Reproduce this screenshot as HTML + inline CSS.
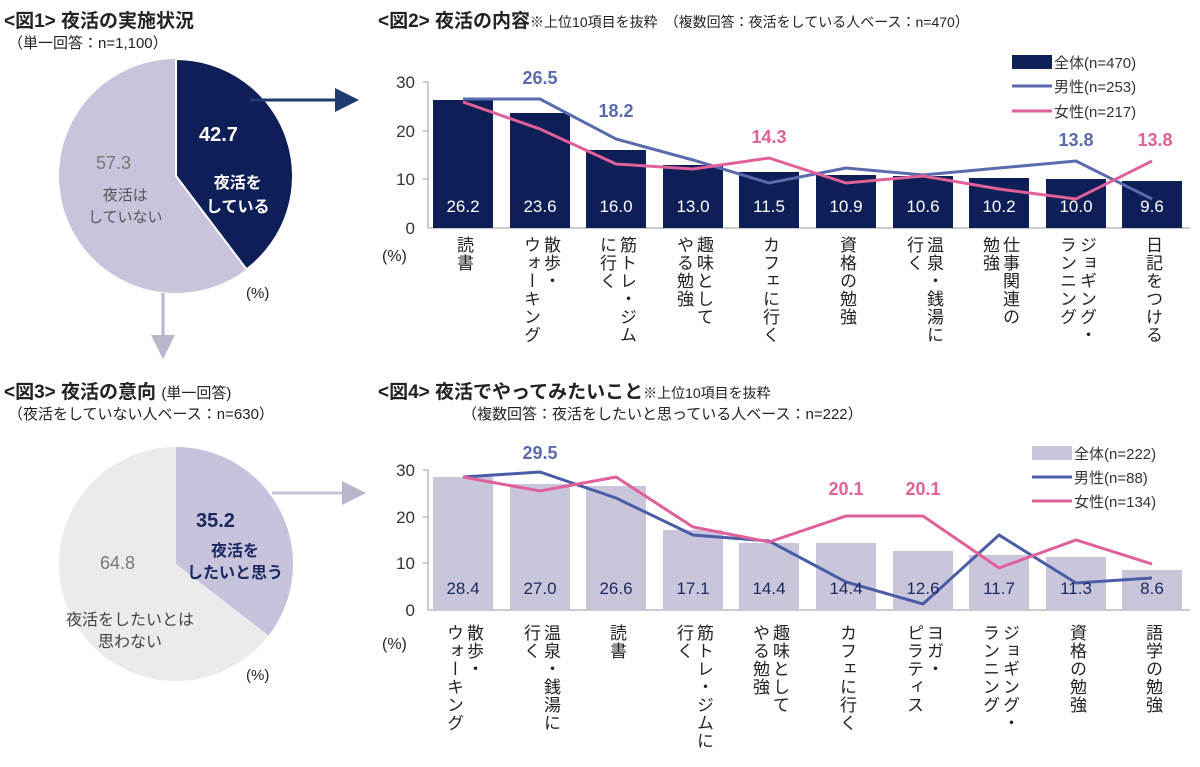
<!DOCTYPE html><html><head><meta charset="utf-8"><style>
body{margin:0;width:1200px;height:767px;background:#fff;position:relative;overflow:hidden;font-family:"Liberation Sans","Noto Sans CJK JP",sans-serif;color:#222}
.t{position:absolute;white-space:nowrap}
.v{position:absolute;writing-mode:vertical-rl;font-size:17px;line-height:20px;transform:translateX(-50%);color:#222;letter-spacing:1px}
svg{position:absolute;left:0;top:0}
</style></head><body>
<svg width="1200" height="767" font-family="Liberation Sans, Noto Sans CJK JP, sans-serif">
<defs><marker id="a1" markerWidth="8" markerHeight="8" refX="6" refY="4" orient="auto"><path d="M0,0L8,4L0,8z" fill="#1e3a6e"/></marker>
<marker id="a2" markerWidth="8" markerHeight="8" refX="6" refY="4" orient="auto"><path d="M0,0L8,4L0,8z" fill="#b9b6cc"/></marker></defs>
<circle cx="176" cy="176" r="117" fill="#c9c4dc"/>
<path d="M176,176L176,59A117,117 0 0 1 246.6,269.3Z" fill="#0e1f57"/>
<path d="M176,176L176,59A117,117 0 0 1 246.6,269.3Z" fill="none" stroke="#fff" stroke-width="2"/>
<line x1="250" y1="100" x2="353" y2="100" stroke="#1e3a6e" stroke-width="3" marker-end="url(#a1)"/>
<line x1="163" y1="293" x2="163" y2="353" stroke="#b9b6cc" stroke-width="3" marker-end="url(#a2)"/>
<circle cx="176" cy="564" r="117" fill="#ebebeb"/>
<path d="M176,564L176,447A117,117 0 0 1 268.6,635.5Z" fill="#c8c3dd"/>
<line x1="272" y1="493" x2="360" y2="493" stroke="#c8c5d8" stroke-width="3" marker-end="url(#a2)"/>
<g stroke="#999" stroke-width="1"><line x1="428" y1="82" x2="428" y2="228"/><line x1="428" y1="228" x2="1190" y2="228"/>
<line x1="423" y1="82" x2="428" y2="82"/><line x1="423" y1="131" x2="428" y2="131"/><line x1="423" y1="179" x2="428" y2="179"/></g>
<g font-size="17" fill="#333" text-anchor="end"><text x="415" y="88">30</text><text x="415" y="137">20</text><text x="415" y="185">10</text><text x="415" y="234">0</text></g>
<g fill="#0e1f57"><rect x="433" y="100" width="60" height="128"/><rect x="510" y="113" width="60" height="115"/><rect x="586" y="150" width="60" height="78"/><rect x="663" y="165" width="60" height="63"/><rect x="739" y="172" width="60" height="56"/><rect x="816" y="175" width="60" height="53"/><rect x="893" y="176" width="60" height="52"/><rect x="969" y="178" width="60" height="50"/><rect x="1046" y="179" width="60" height="49"/><rect x="1122" y="181" width="60" height="47"/></g>
<polyline fill="none" stroke="#5a6aad" stroke-width="3" points="463,99 540,99 616,139 693,160 769,183 846,168 923,175 999,168 1076,161 1152,199"/>
<polyline fill="none" stroke="#e0609a" stroke-width="3" points="463,102 540,129 616,164 693,169 769,158 846,183 923,176 999,189 1076,199 1152,161"/>
<g font-size="17" fill="#fff" text-anchor="middle"><text x="463" y="212">26.2</text><text x="540" y="212">23.6</text><text x="616" y="212">16.0</text><text x="693" y="212">13.0</text><text x="769" y="212">11.5</text><text x="846" y="212">10.9</text><text x="923" y="212">10.6</text><text x="999" y="212">10.2</text><text x="1076" y="212">10.0</text><text x="1152" y="212">9.6</text></g>
<g font-size="18" font-weight="bold" text-anchor="middle"><text x="540" y="84" fill="#5a6aad">26.5</text><text x="616" y="117" fill="#5a6aad">18.2</text><text x="769" y="143" fill="#e0609a">14.3</text><text x="1076" y="146" fill="#5a6aad">13.8</text><text x="1155" y="146" fill="#e0609a">13.8</text></g>
<rect x="1012" y="55" width="40" height="14" fill="#0e1f57"/>
<line x1="1012" y1="86" x2="1052" y2="86" stroke="#5a6aad" stroke-width="3"/>
<line x1="1012" y1="111" x2="1052" y2="111" stroke="#e0609a" stroke-width="3"/>
<g font-size="15" fill="#333"><text x="1054" y="68">全体(n=470)</text><text x="1054" y="92">男性(n=253)</text><text x="1054" y="117">女性(n=217)</text></g>
<g stroke="#999" stroke-width="1"><line x1="428" y1="470" x2="428" y2="610"/><line x1="428" y1="610" x2="1190" y2="610"/>
<line x1="423" y1="470" x2="428" y2="470"/><line x1="423" y1="517" x2="428" y2="517"/><line x1="423" y1="563" x2="428" y2="563"/></g>
<g font-size="17" fill="#333" text-anchor="end"><text x="415" y="476">30</text><text x="415" y="523">20</text><text x="415" y="569">10</text><text x="415" y="616">0</text></g>
<g fill="#c9c5db"><rect x="433" y="477" width="60" height="133"/><rect x="510" y="484" width="60" height="126"/><rect x="586" y="486" width="60" height="124"/><rect x="663" y="530" width="60" height="80"/><rect x="739" y="543" width="60" height="67"/><rect x="816" y="543" width="60" height="67"/><rect x="893" y="551" width="60" height="59"/><rect x="969" y="555" width="60" height="55"/><rect x="1046" y="557" width="60" height="53"/><rect x="1122" y="570" width="60" height="40"/></g>
<polyline fill="none" stroke="#4a5ca5" stroke-width="3" points="463,477 540,472 616,498 693,535 769,541 846,582 923,604 999,535 1076,583 1152,578"/>
<polyline fill="none" stroke="#e0609a" stroke-width="3" points="463,477 540,491 616,477 693,527 769,542 846,516 923,516 999,568 1076,540 1152,564"/>
<g font-size="17" fill="#1a2a60" text-anchor="middle"><text x="463" y="594">28.4</text><text x="540" y="594">27.0</text><text x="616" y="594">26.6</text><text x="693" y="594">17.1</text><text x="769" y="594">14.4</text><text x="846" y="594">14.4</text><text x="923" y="594">12.6</text><text x="999" y="594">11.7</text><text x="1076" y="594">11.3</text><text x="1152" y="594">8.6</text></g>
<g font-size="18" font-weight="bold" text-anchor="middle"><text x="540" y="459" fill="#5a6aad">29.5</text><text x="846" y="495" fill="#e0609a">20.1</text><text x="923" y="495" fill="#e0609a">20.1</text></g>
<rect x="1032" y="446" width="40" height="14" fill="#c9c5db"/>
<line x1="1032" y1="477" x2="1072" y2="477" stroke="#4a5ca5" stroke-width="3"/>
<line x1="1032" y1="501" x2="1072" y2="501" stroke="#e0609a" stroke-width="3"/>
<g font-size="15" fill="#333"><text x="1074" y="459">全体(n=222)</text><text x="1074" y="483">男性(n=88)</text><text x="1074" y="507">女性(n=134)</text></g>
</svg>
<div class="t" style="left:4px;top:6px;font-size:19px;font-weight:bold">&lt;図1&gt; 夜活の実施状況</div>
<div class="t" style="left:8px;top:32px;font-size:15px">（単一回答：n=1,100）</div>
<div class="t" style="left:378px;top:6px;font-size:19px;font-weight:bold">&lt;図2&gt; 夜活の内容<span style="font-size:14px;font-weight:normal">※上位10項目を抜粋　（複数回答：夜活をしている人ベース：n=470）</span></div>
<div class="t" style="left:4px;top:377px;font-size:19px;font-weight:bold">&lt;図3&gt; 夜活の意向 <span style="font-size:15px;font-weight:normal">(単一回答)</span></div>
<div class="t" style="left:8px;top:403px;font-size:15px">（夜活をしていない人ベース：n=630）</div>
<div class="t" style="left:378px;top:377px;font-size:19px;font-weight:bold">&lt;図4&gt; 夜活でやってみたいこと<span style="font-size:14px;font-weight:normal">※上位10項目を抜粋</span></div>
<div class="t" style="left:462px;top:403px;font-size:15px">（複数回答：夜活をしたいと思っている人ベース：n=222）</div>
<div class="t" style="left:199px;top:124px;font-size:20px;font-weight:bold;color:#fff">42.7</div>
<div class="t" style="left:206px;top:172px;font-size:16px;font-weight:bold;color:#fff;text-align:center;line-height:24px">夜活を<br>している</div>
<div class="t" style="left:96px;top:153px;font-size:18px;color:#777">57.3</div>
<div class="t" style="left:88px;top:185px;font-size:15px;color:#555;text-align:center;line-height:22px">夜活は<br>していない</div>
<div class="t" style="left:246px;top:285px;font-size:15px">(%)</div>
<div class="t" style="left:196px;top:510px;font-size:20px;font-weight:bold;color:#1a2a60">35.2</div>
<div class="t" style="left:187px;top:541px;font-size:16px;font-weight:bold;color:#1a2a60;text-align:center;line-height:22px">夜活を<br>したいと思う</div>
<div class="t" style="left:100px;top:553px;font-size:18px;color:#777">64.8</div>
<div class="t" style="left:66px;top:610px;font-size:16px;color:#444;text-align:center;line-height:22px">夜活をしたいとは<br>思わない</div>
<div class="t" style="left:246px;top:667px;font-size:15px">(%)</div>
<div class="t" style="left:382px;top:248px;font-size:16px">(%)</div>
<div class="t" style="left:382px;top:636px;font-size:16px">(%)</div>
<div class="v" style="left:463px;top:236px">読書</div>
<div class="v" style="left:540px;top:236px">散歩・<br>ウォーキング</div>
<div class="v" style="left:616px;top:236px">筋トレ・ジム<br>に行く</div>
<div class="v" style="left:693px;top:236px">趣味として<br>やる勉強</div>
<div class="v" style="left:769px;top:236px">カフェに行く</div>
<div class="v" style="left:846px;top:236px">資格の勉強</div>
<div class="v" style="left:923px;top:236px">温泉・銭湯に<br>行く</div>
<div class="v" style="left:999px;top:236px">仕事関連の<br>勉強</div>
<div class="v" style="left:1076px;top:236px">ジョギング・<br>ランニング</div>
<div class="v" style="left:1152px;top:236px">日記をつける</div>
<div class="v" style="left:463px;top:624px">散歩・<br>ウォーキング</div>
<div class="v" style="left:540px;top:624px">温泉・銭湯に<br>行く</div>
<div class="v" style="left:616px;top:624px">読書</div>
<div class="v" style="left:693px;top:624px">筋トレ・ジムに<br>行く</div>
<div class="v" style="left:769px;top:624px">趣味として<br>やる勉強</div>
<div class="v" style="left:846px;top:624px">カフェに行く</div>
<div class="v" style="left:923px;top:624px">ヨガ・<br>ピラティス</div>
<div class="v" style="left:999px;top:624px">ジョギング・<br>ランニング</div>
<div class="v" style="left:1076px;top:624px">資格の勉強</div>
<div class="v" style="left:1152px;top:624px">語学の勉強</div>
</body></html>
